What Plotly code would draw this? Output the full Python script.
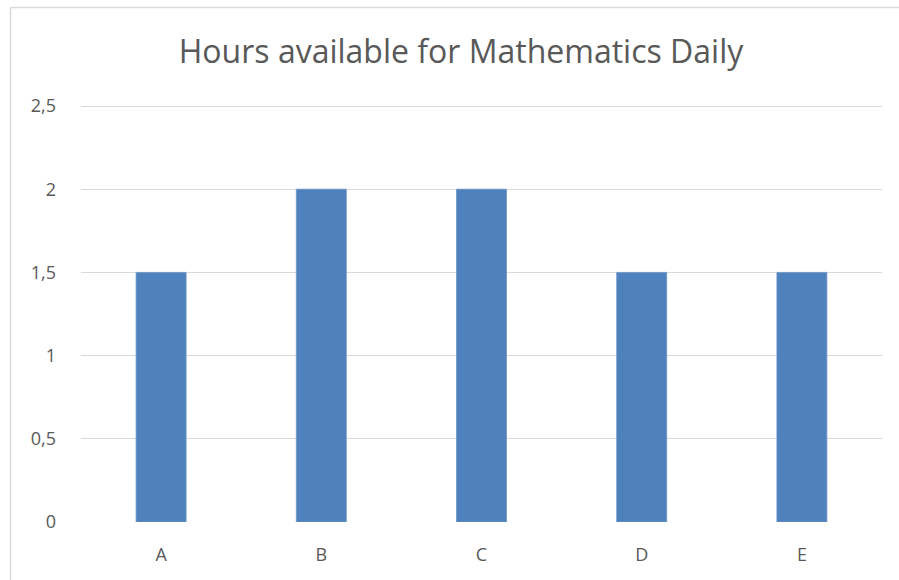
import plotly.graph_objects as go

categories = ["A", "B", "C", "D", "E"]
hours = [1.5, 2, 2, 1.5, 1.5]
tick_vals = [0, 0.5, 1, 1.5, 2, 2.5]

W, H = 899, 580
L, R, T, B = 81, 17, 103, 58
pw, ph = W - L - R, H - T - B
ymax = 2.5 * ph / 416

fig = go.Figure(go.Bar(
    x=categories, y=hours,
    marker=dict(color="#4F81BD", line=dict(width=0.8, color="#6A95C9")),
))

fig.update_layout(
    width=W, height=H,
    margin=dict(l=L, r=R, t=T, b=B),
    paper_bgcolor="white", plot_bgcolor="white",
    separators=",.",
    bargap=0.688,
    showlegend=False,
    font=dict(family="Open Sans", color="#595959", size=18),
    title=dict(text="Hours available for Mathematics Daily",
               x=(461 - L) / pw, xref="paper", xanchor="center",
               y=1 - 52 / H, yanchor="middle",
               font=dict(family="Open Sans", size=32, color="#595959")),
    xaxis=dict(showgrid=False, showline=False, ticks="", ticklabelstandoff=20,
               tickfont=dict(size=18, color="#595959")),
    yaxis=dict(range=[0, ymax], tickvals=tick_vals, showgrid=True,
               gridcolor="#D9D9D9", gridwidth=1.3, zeroline=False,
               showline=False, ticks="", ticklabelstandoff=24,
               tickfont=dict(size=18, color="#595959")),
    shapes=[dict(type="rect", xref="paper", yref="paper",
                 x0=(10.5 - L) / pw, x1=1.2, y0=-0.5, y1=(H - B - 7.5) / ph,
                 line=dict(color="#D9D9D9", width=1.5), fillcolor="rgba(0,0,0,0)",
                 layer="below")],
)

fig.write_html("out.html", config={"displayModeBar": False},
               post_script="document.body.style.margin='0';")
